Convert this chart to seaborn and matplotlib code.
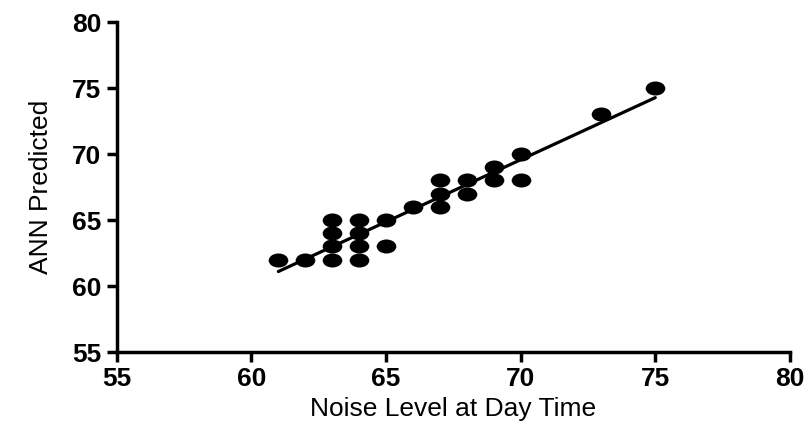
import numpy as np
import matplotlib
matplotlib.use("Agg")
import matplotlib.pyplot as plt
from matplotlib.path import Path
import seaborn as sns

# noise level at day time (measured) vs ANN predicted
noise_level = [61, 62, 63, 63, 63, 63, 64, 64, 64, 64, 65, 65,
               66, 67, 67, 67, 68, 68, 69, 69, 70, 70, 73, 75]
ann_predicted = [62, 62, 65, 64, 63, 62, 65, 64, 63, 62, 65, 63,
                 66, 68, 67, 66, 68, 67, 69, 68, 70, 68, 73, 75]
ticks = [55, 60, 65, 70, 75, 80]

sns.set_style("ticks", {"axes.edgecolor": "black", "text.color": "black",
                        "xtick.color": "black", "ytick.color": "black",
                        "axes.labelcolor": "black"})
plt.rcParams["font.family"] = ["Liberation Sans", "DejaVu Sans"]

# slightly wide ellipse marker, like the stretched original
circle = Path.unit_circle()
ellipse = Path(circle.vertices * np.array([1.4, 1.0]), circle.codes)

fig = plt.figure(figsize=(8.11, 4.33), dpi=100)
ax = fig.add_axes([0.144, 0.187, 0.830, 0.762])

sns.regplot(
    x=noise_level,
    y=ann_predicted,
    ci=None,
    truncate=True,
    color="black",
    marker=ellipse,
    scatter_kws={"s": 200, "alpha": 1, "linewidths": 0},
    line_kws={"linewidth": 2.3},
    ax=ax,
)

ax.set_xlim(55, 80)
ax.set_ylim(55, 80)
ax.set_xticks(ticks)
ax.set_yticks(ticks)
ax.tick_params(direction="out", length=7, width=2.5, labelsize=19, pad=4)
for lab in ax.get_xticklabels() + ax.get_yticklabels():
    lab.set_fontweight("bold")

for side in ["left", "bottom"]:
    ax.spines[side].set_linewidth(2.5)
sns.despine(ax=ax)

ax.set_xlabel("Noise Level at Day Time", fontsize=19, labelpad=4)
ax.set_ylabel("ANN Predicted", fontsize=19, labelpad=14)

plt.savefig("out.png", dpi=100)
